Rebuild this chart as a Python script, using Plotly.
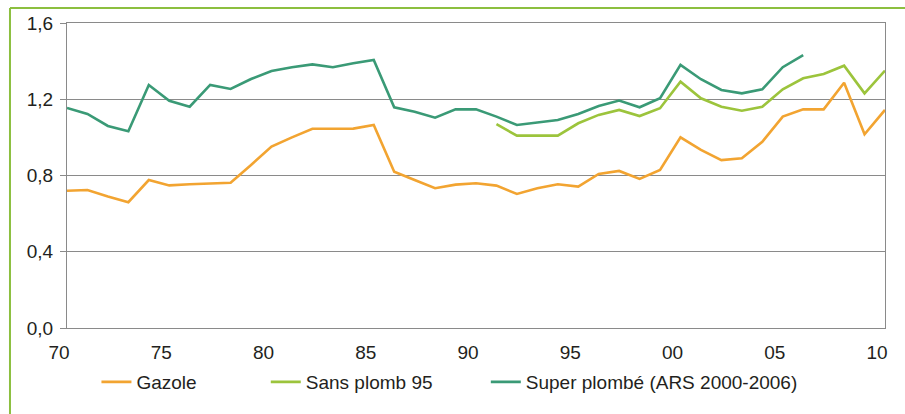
import plotly.graph_objects as go

# Prix à la pompe (€/litre), 1970-2010
years = list(range(1970, 2011))

gazole = [0.720, 0.724, 0.690, 0.660, 0.776, 0.748, 0.754, 0.760, 0.762, 0.855,
          0.952, 1.000, 1.045, 1.045, 1.046, 1.065, 0.820, 0.776, 0.733, 0.752,
          0.759, 0.747, 0.703, 0.733, 0.754, 0.742, 0.808, 0.824, 0.782, 0.829,
          1.000, 0.934, 0.881, 0.890, 0.977, 1.109, 1.147, 1.147, 1.287, 1.016,
          1.144]

sp95_years = list(range(1991, 2011))
sans_plomb_95 = [1.069, 1.009, 1.009, 1.009, 1.074, 1.118, 1.144, 1.112, 1.153, 1.292,
                 1.205, 1.161, 1.140, 1.161, 1.252, 1.310, 1.333, 1.376, 1.231, 1.350]

super_years = list(range(1970, 2007))
super_plombe = [1.154, 1.123, 1.060, 1.032, 1.275, 1.192, 1.161, 1.275, 1.254, 1.306,
                1.348, 1.368, 1.383, 1.368, 1.389, 1.406, 1.158, 1.135, 1.103, 1.147,
                1.147, 1.109, 1.065, 1.077, 1.091, 1.123, 1.165, 1.193, 1.158, 1.205,
                1.380, 1.305, 1.249, 1.231, 1.252, 1.368, 1.432]

x_ticks = [1970, 1975, 1980, 1985, 1990, 1995, 2000, 2005, 2010]
x_tick_text = ["70", "75", "80", "85", "90", "95", "00", "05", "10"]
y_ticks = [0.0, 0.4, 0.8, 1.2, 1.6]

ORANGE = "#F2A431"
LIGHT_GREEN = "#9CC43C"
TEAL = "#3A9A76"
FRAME = "#8CBF3F"
GRID = "#8A8A8A"
TEXT = "#231F20"
FONT = "Liberation Sans, Arial, sans-serif"
SIZE = 19

fig = go.Figure()
fig.add_trace(go.Scatter(x=years, y=gazole, mode="lines", name="Gazole",
                         line=dict(color=ORANGE, width=2.6), legend="legend"))
fig.add_trace(go.Scatter(x=sp95_years, y=sans_plomb_95, mode="lines", name="Sans plomb 95",
                         line=dict(color=LIGHT_GREEN, width=2.6), legend="legend2"))
fig.add_trace(go.Scatter(x=super_years, y=super_plombe, mode="lines",
                         name="Super plombé (ARS 2000-2006)",
                         line=dict(color=TEAL, width=2.6), legend="legend3"))

legend_common = dict(orientation="h", yanchor="middle", y=-0.177, xanchor="left",
                     font=dict(family=FONT, size=SIZE, color=TEXT),
                     bgcolor="rgba(0,0,0,0)", borderwidth=0, itemwidth=30)

fig.update_layout(
    width=905, height=414,
    margin=dict(l=67, r=20, t=23, b=86),
    paper_bgcolor="white", plot_bgcolor="white",
    separators=", ",
    font=dict(family=FONT, size=SIZE, color=TEXT),
    showlegend=True,
    legend=dict(x=0.036, **legend_common),
    legend2=dict(x=0.243, **legend_common),
    legend3=dict(x=0.512, **legend_common),
    xaxis=dict(range=[1970, 2010], tickvals=x_ticks, ticktext=x_tick_text,
               showgrid=False, zeroline=False, showline=True, linecolor=GRID,
               linewidth=1, mirror=True, ticks="", ticklabelshift=-8,
               ticklabelstandoff=7, tickfont=dict(size=SIZE, color=TEXT)),
    yaxis=dict(range=[0, 1.6], tickvals=y_ticks, tickformat=".1f",
               showgrid=True, gridcolor=GRID, gridwidth=1, zeroline=False,
               showline=True, linecolor=GRID, linewidth=1, mirror=True,
               ticks="outside", ticklen=6, tickcolor=GRID,
               ticklabelstandoff=3,
               tickfont=dict(size=SIZE, color=TEXT)),
)

# green frame lines along the top and left edges of the figure
fig.add_shape(type="line", xref="paper", yref="paper",
              x0=-0.0697, x1=1.03, y0=1.049, y1=1.049,
              line=dict(color=FRAME, width=2))
fig.add_shape(type="line", xref="paper", yref="paper",
              x0=-0.0697, x1=-0.0697, y0=1.049, y1=-0.29,
              line=dict(color=FRAME, width=2))

fig.write_html("out.html")
